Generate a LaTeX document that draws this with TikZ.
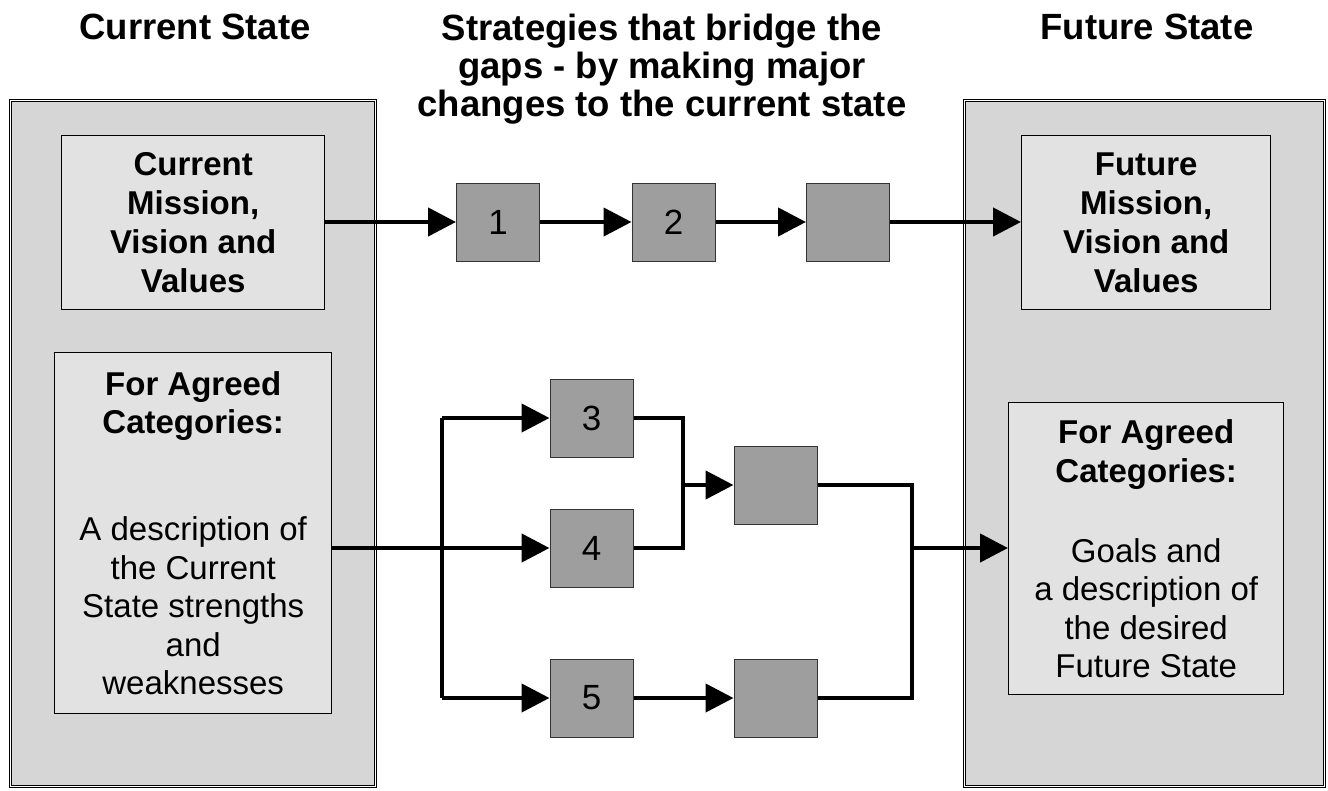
\documentclass[tikz,border=0pt]{standalone}
\usepackage{fontspec}
\setmainfont{Liberation Sans}
\usetikzlibrary{arrows.meta}
\definecolor{panelgray}{HTML}{D6D6D6}
\definecolor{boxgray}{HTML}{E2E2E2}
\definecolor{stepgray}{HTML}{9E9E9E}
\begin{document}
\begin{tikzpicture}[x=1pt,y=-1pt,
  panel/.style={draw=black, double=white, double distance=1.4pt, line width=0.9pt,
    fill=panelgray, anchor=north west, inner sep=0pt},
  infobox/.style={draw=black, line width=1.4pt, fill=boxgray, anchor=north west,
    inner sep=0pt, align=center},
  stepbox/.style={draw=black!80, line width=1pt, fill=stepgray, minimum width=83pt,
    minimum height=78pt, inner sep=0pt, font=\fontsize{35}{40}\selectfont},
  titletext/.style={font=\fontsize{36.5}{38}\selectfont\bfseries, inner sep=0pt, align=center},
  conn/.style={line width=4.5pt},
  arr/.style={conn, -{Triangle[length=28pt,width=28pt]}}
]
\path[use as bounding box] (0,0) rectangle (1328,790);

% titles
\node[titletext, anchor=base] (tl) at (195,39) {Current State};
\node[titletext, anchor=base] (tr) at (1147,39) {Future State};
\node[titletext, anchor=north] (tm) at (662,14) {Strategies that bridge the\\gaps - by making major\\changes to the current state};

% panels
\node[panel, minimum width=365.4pt, minimum height=686.4pt] (lp) at (9.8,99.8) {};
\node[panel, minimum width=360.4pt, minimum height=686.4pt] (rp) at (963.8,99.8) {};

% inner boxes
\node[infobox, minimum width=263pt, minimum height=174pt,
  font=\fontsize{33}{39}\selectfont\bfseries] (cm) at (61,135)
  {Current\\Mission,\\Vision and\\Values};
\node[infobox, minimum width=249pt, minimum height=174pt,
  font=\fontsize{33}{39}\selectfont\bfseries] (fm) at (1021,135)
  {Future\\Mission,\\Vision and\\Values};
\node[infobox, minimum width=277pt, minimum height=361pt,
  font=\fontsize{33}{38.5}\selectfont] (lc) at (54,352)
  {\textbf{For Agreed}\\\textbf{Categories:}\\[68.5pt]A description of\\the Current\\State strengths\\and\\weaknesses};
\node[infobox, minimum width=275pt, minimum height=292pt,
  font=\fontsize{33}{38.5}\selectfont] (rc) at (1008,402)
  {\textbf{For Agreed}\\\textbf{Categories:}\\[41.5pt]Goals and\\a description of\\the desired\\Future State};

% step boxes
\node[stepbox] (s1) at (498,222) {1};
\node[stepbox] (s2) at (673.5,222) {2};
\node[stepbox] (sa) at (848,222) {};
\node[stepbox] (s3) at (591.5,418) {3};
\node[stepbox] (s4) at (591.5,548) {4};
\node[stepbox] (s5) at (591.5,698) {5};
\node[stepbox] (sb) at (775.5,485) {};
\node[stepbox] (sc) at (775.5,698) {};

% top row
\draw[arr] (cm.east |- s1.west) -- (s1.west);
\draw[arr] (s1) -- (s2);
\draw[arr] (s2) -- (sa);
\draw[arr] (sa) -- (fm.west |- sa.east);

% lower network
\coordinate (t3) at (442,418);
\coordinate (t5) at (442,698);
\coordinate (m1) at (683,418);
\coordinate (m2) at (683,548);
\coordinate (mj) at (683,485);
\coordinate (n1) at (912,485);
\coordinate (n2) at (912,698);
\coordinate (nj) at (912,548);

\draw[conn] (t3) -- (t5);
\draw[arr] (t3) -- (s3.west);
\draw[arr] (t5) -- (s5.west);
\draw[arr] (lc.east |- s4.west) -- (s4.west);
\draw[conn] (s3.east) -- (m1) -- (m2) -- (s4.east);
\draw[arr] (mj) -- (sb.west);
\draw[conn] (sb.east) -- (n1) -- (n2) -- (sc.east);
\draw[arr] (s5) -- (sc);
\draw[arr] (nj) -- (rc.west |- nj);
\end{tikzpicture}
\end{document}
